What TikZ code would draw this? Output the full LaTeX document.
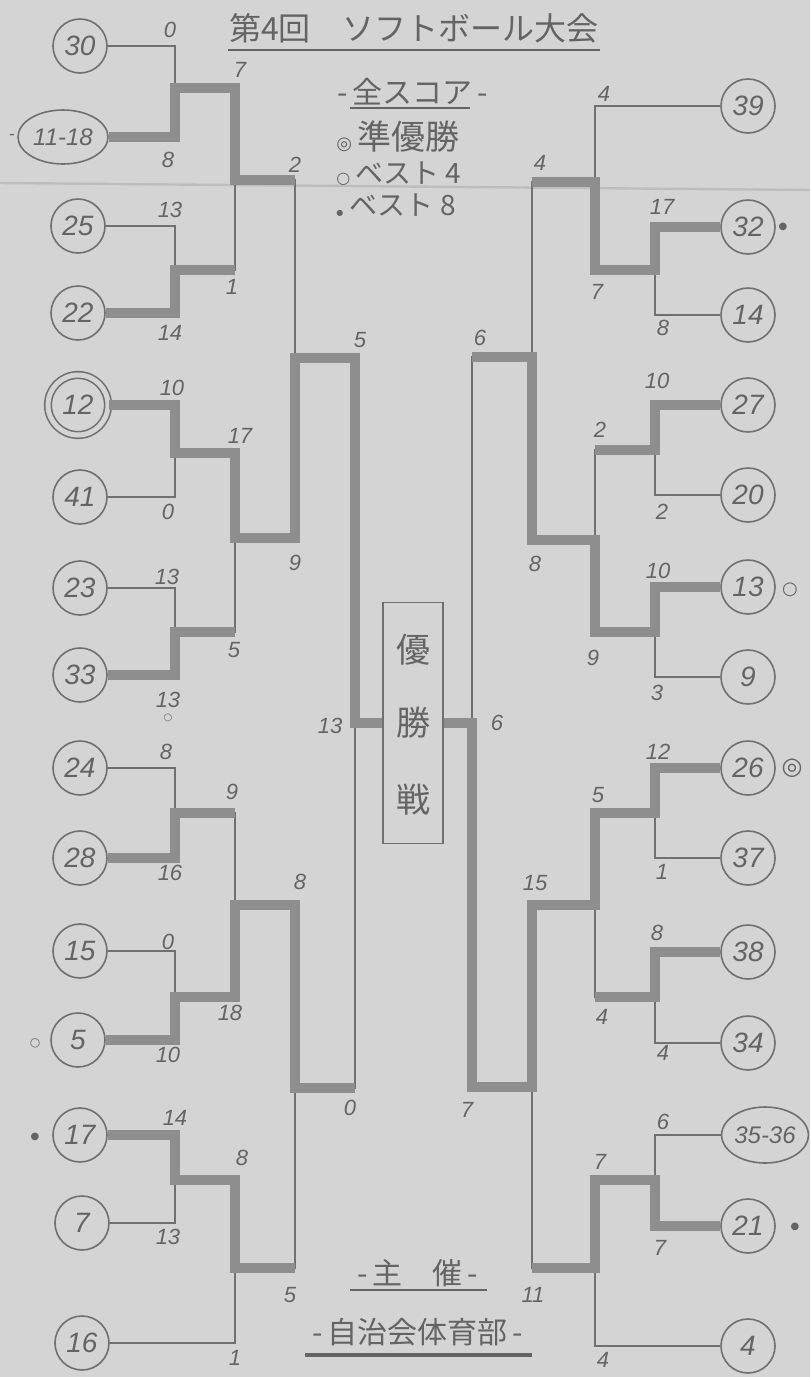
\documentclass[tikz,border=0pt]{standalone}
\usepackage{fontspec}
\setmainfont{Liberation Sans}
\newfontfamily\jp{Noto Sans CJK JP}
\newfontfamily\sym{DejaVu Sans}
\usetikzlibrary{shapes.geometric}
\definecolor{paper}{HTML}{D4D4D4}
\definecolor{ink}{HTML}{707070}
\definecolor{hl}{HTML}{8E8E8E}
\definecolor{txt}{HTML}{646464}
\definecolor{crease}{HTML}{BDBDBD}
\begin{document}
\begin{tikzpicture}[x=0.5pt,y=-0.5pt,
  team/.style={circle, draw=ink, line width=0.8pt, minimum size=27pt, inner sep=0pt,
     fill=paper, text=txt, font=\fontsize{14}{14}\selectfont\itshape},
  teamE/.style={team, ellipse, minimum width=45pt, minimum height=27pt,
     font=\fontsize{12}{12}\selectfont\itshape},
  wire/.style={draw=ink, line width=0.9pt},
  win/.style={draw=hl, line width=5pt, line join=miter},
  score/.style={inner sep=0pt, text=txt, font=\fontsize{11}{11}\selectfont\itshape},
  jt/.style={inner sep=0pt, text=txt, font=\jp\fontsize{15}{15}\selectfont},
  tmark/.style={inner sep=0pt, text=txt, font=\sym\fontsize{5}{5}\selectfont},
  rule/.style={draw=txt, line width=1pt}]
\fill[paper] (0,0) rectangle (810,1377);
\useasboundingbox (0,0) rectangle (810,1377);
\draw[crease, line width=1.2pt] (0,183) -- (810,190);

% ---------- titles ----------
\node[jt, font=\jp\fontsize{16}{16}\selectfont] (title) at (414,28) {第4回　ソフトボール大会};
\draw[rule, line width=1.3pt] (228,50) -- (600,50);
\node[jt] (lg0) at (413,92) {-\,全スコア\,-};
\draw[rule, line width=0.8pt] (350,108) -- (470,108);
\node[jt, anchor=west, font=\jp\fontsize{17}{17}\selectfont] (lg1) at (336,137) {{\sym\fontsize{9}{9}\selectfont ◎}\,準優勝};
\node[jt, anchor=west, font=\jp\fontsize{14}{14}\selectfont] (lg2) at (336,174) {{\sym\fontsize{8}{8}\selectfont ○}\,ベスト 4};
\node[jt, anchor=west, font=\jp\fontsize{14}{14}\selectfont] (lg3) at (336,205) {{\sym\fontsize{4}{4}\selectfont ●}\hspace{3pt}ベスト 8};
\node[jt] (org1) at (418,1273) {-\,主　催\,-};
\draw[rule, line width=0.9pt] (350,1290) -- (487,1290);
\node[jt] (org2) at (418,1332) {-\,自治会体育部\,-};
\draw[rule, line width=1.6pt] (305,1355) -- (532,1355);

% ---------- final box ----------
\node[draw=ink, line width=0.9pt, minimum width=30pt, minimum height=120.5pt, inner sep=0pt] (Final) at (413,723) {};
\node[jt, font=\jp\fontsize{17}{17}\selectfont] (fc1) at (413,650) {優};
\node[jt, font=\jp\fontsize{17}{17}\selectfont] (fc2) at (413,723) {勝};
\node[jt, font=\jp\fontsize{17}{17}\selectfont] (fc3) at (413,800) {戦};

% ---------- teams left ----------
\node[team] (L30) at (80,46) {30};
\node[teamE] (L1118) at (63,137) {11-18};
\node[team] (L25) at (78,226) {25};
\node[team] (L22) at (78,313) {22};
\node[team, double=paper, double distance=2.5pt, minimum size=30pt] (L12) at (78,405) {12};
\node[team] (L41) at (80,497) {41};
\node[team] (L23) at (80,588) {23};
\node[team] (L33) at (80,675) {33};
\node[team] (L24) at (80,768) {24};
\node[team] (L28) at (80,858) {28};
\node[team] (L15) at (80,951) {15};
\node[team] (L5) at (78,1040) {5};
\node[team] (L17) at (80,1135) {17};
\node[team] (L7) at (82,1223) {7};
\node[team] (L16) at (82,1343) {16};
% ---------- teams right ----------
\node[team] (R39) at (748,106) {39};
\node[team] (R32) at (748,227) {32};
\node[team] (R14) at (748,315) {14};
\node[team] (R27) at (748,405) {27};
\node[team] (R20) at (748,495) {20};
\node[team] (R13) at (748,587) {13};
\node[team] (R9) at (748,677) {9};
\node[team] (R26) at (748,768) {26};
\node[team] (R37) at (748,858) {37};
\node[team] (R38) at (748,952) {38};
\node[team] (R34) at (748,1043) {34};
\node[teamE, minimum width=43pt, minimum height=28pt] (R3536) at (765,1135) {35-36};
\node[team] (R21) at (748,1226) {21};
\node[team] (R4) at (748,1346) {4};

% ---------- marks ----------
\node[tmark, font=\sym\fontsize{8}{8}\selectfont] (m1118) at (12,137) {-};
\node[tmark, font=\sym\fontsize{6}{6}\selectfont] (m5) at (35,1043) {○};
\node[tmark] (m17) at (35,1137) {●};
\node[tmark] (m32) at (783,227) {●};
\node[tmark, font=\sym\fontsize{9}{9}\selectfont] (m13) at (790,590) {○};
\node[tmark, font=\sym\fontsize{12}{12}\selectfont] (m26) at (792,768) {◎};
\node[tmark] (m21) at (795,1227) {●};

% ---------- junction coordinates ----------
\foreach \n/\x/\t/\b/\m in {a1/175/46/137/88, a2/175/226/313/270, a3/175/405/497/453,
  a4/175/588/675/632, a5/175/768/858/813, a6/175/951/1040/997, a7/175/1135/1223/1180,
  b1/235/88/270/180, b2/235/453/632/538, b3/235/813/997/905, b4/235/1180/1343/1268,
  c1/295/180/538/358, c2/295/905/1268/1088, d1/355/358/1088/723,
  e1/655/227/315/270, e2/655/405/495/450, e3/655/587/677/632, e4/655/768/858/813,
  e5/655/952/1043/997, e6/655/1135/1226/1180,
  f1/595/106/270/182, f2/595/450/632/540, f3/595/813/997/905, f4/595/1180/1346/1268,
  g1/532/182/540/357, g2/532/905/1268/1087, h1/472/357/1087/723}{
  \coordinate (\n t) at (\x,\t);
  \coordinate (\n b) at (\x,\b);
  \coordinate (\n m) at (\x,\m);
}

% ---------- thin bracket ----------
\draw[wire] (L30.east) -- (a1t) -- (a1b) -- (L1118.east);
\draw[wire] (L25.east) -- (a2t) -- (a2b) -- (L22.east);
\draw[wire] (L12.east) -- (a3t) -- (a3b) -- (L41.east);
\draw[wire] (L23.east) -- (a4t) -- (a4b) -- (L33.east);
\draw[wire] (L24.east) -- (a5t) -- (a5b) -- (L28.east);
\draw[wire] (L15.east) -- (a6t) -- (a6b) -- (L5.east);
\draw[wire] (L17.east) -- (a7t) -- (a7b) -- (L7.east);
\draw[wire] (a1m) -- (b1t) -- (b1b) -- (a2m);
\draw[wire] (a3m) -- (b2t) -- (b2b) -- (a4m);
\draw[wire] (a5m) -- (b3t) -- (b3b) -- (a6m);
\draw[wire] (a7m) -- (b4t) -- (b4b) -- (L16.east);
\draw[wire] (b1m) -- (c1t) -- (c1b) -- (b2m);
\draw[wire] (b3m) -- (c2t) -- (c2b) -- (b4m);
\draw[wire] (c1m) -- (d1t) -- (d1b) -- (c2m);
\draw[wire] (d1m) -- (Final.west);
\draw[wire] (R32.west) -- (e1t) -- (e1b) -- (R14.west);
\draw[wire] (R27.west) -- (e2t) -- (e2b) -- (R20.west);
\draw[wire] (R13.west) -- (e3t) -- (e3b) -- (R9.west);
\draw[wire] (R26.west) -- (e4t) -- (e4b) -- (R37.west);
\draw[wire] (R38.west) -- (e5t) -- (e5b) -- (R34.west);
\draw[wire] (R3536.west) -- (e6t) -- (e6b) -- (R21.west);
\draw[wire] (R39.west) -- (f1t) -- (f1b) -- (e1m);
\draw[wire] (e2m) -- (f2t) -- (f2b) -- (e3m);
\draw[wire] (e4m) -- (f3t) -- (f3b) -- (e5m);
\draw[wire] (e6m) -- (f4t) -- (f4b) -- (R4.west);
\draw[wire] (f1m) -- (g1t) -- (g1b) -- (f2m);
\draw[wire] (f3m) -- (g2t) -- (g2b) -- (f4m);
\draw[wire] (g1m) -- (h1t) -- (h1b) -- (g2m);
\draw[wire] (h1m) -- (Final.east);

% ---------- winner paths ----------
\draw[win] (L1118.east) -- (a1b) -- (a1m) -- (b1t) -- (b1m) -- (c1t);
\draw[win] (L22.east) -- (a2b) -- (a2m) -- (b1b);
\draw[win] (L12.east) -- (a3t) -- (a3m) -- (b2t) -- (b2m) -- (c1b) -- (c1m) -- (d1t) -- (d1m) -- (Final.west);
\draw[win] (L33.east) -- (a4b) -- (a4m) -- (b2b);
\draw[win] (L28.east) -- (a5b) -- (a5m) -- (b3t);
\draw[win] (L5.east) -- (a6b) -- (a6m) -- (b3b) -- (b3m) -- (c2t) -- (c2m) -- (d1b);
\draw[win] (L17.east) -- (a7t) -- (a7m) -- (b4t) -- (b4m) -- (c2b);
\draw[win] (R32.west) -- (e1t) -- (e1m) -- (f1b) -- (f1m) -- (g1t);
\draw[win] (R27.west) -- (e2t) -- (e2m) -- (f2t);
\draw[win] (R13.west) -- (e3t) -- (e3m) -- (f2b) -- (f2m) -- (g1b) -- (g1m) -- (h1t);
\draw[win] (R26.west) -- (e4t) -- (e4m) -- (f3t) -- (f3m) -- (g2t) -- (g2m) -- (h1b) -- (h1m) -- (Final.east);
\draw[win] (R38.west) -- (e5t) -- (e5m) -- (f3b);
\draw[win] (R21.west) -- (e6b) -- (e6m) -- (f4t) -- (f4m) -- (g2b);

% ---------- scores left ----------
\node[score] (s1) at (170,30) {0};
\node[score] (s2) at (168,160) {8};
\node[score] (s3) at (240,70) {7};
\node[score] (s4) at (232,287) {1};
\node[score] (s5) at (295,165) {2};
\node[score] (s6) at (170,210) {13};
\node[score] (s7) at (170,333) {14};
\node[score] (s8) at (360,340) {5};
\node[score] (s9) at (172,388) {10};
\node[score] (s10) at (168,512) {0};
\node[score] (s11) at (240,436) {17};
\node[score] (s12) at (295,563) {9};
\node[score] (s13) at (167,577) {13};
\node[score] (s14) at (234,650) {5};
\node[score] (s15) at (168,700) {13};
\node[tmark, font=\sym\fontsize{5}{5}\selectfont] (s15o) at (168,718) {○};
\node[score] (s16) at (330,726) {13};
\node[score] (s17) at (166,752) {8};
\node[score] (s18) at (232,792) {9};
\node[score] (s19) at (170,873) {16};
\node[score] (s20) at (300,882) {8};
\node[score] (s21) at (168,942) {0};
\node[score] (s22) at (230,1013) {18};
\node[score] (s23) at (168,1055) {10};
\node[score] (s24) at (350,1108) {0};
\node[score] (s25) at (175,1118) {14};
\node[score] (s26) at (242,1158) {8};
\node[score] (s27) at (168,1237) {13};
\node[score] (s28) at (290,1295) {5};
\node[score] (s29) at (235,1358) {1};
% ---------- scores right ----------
\node[score] (t1) at (604,94) {4};
\node[score] (t2) at (540,163) {4};
\node[score] (t3) at (662,207) {17};
\node[score] (t4) at (597,292) {7};
\node[score] (t5) at (663,328) {8};
\node[score] (t6) at (480,338) {6};
\node[score] (t7) at (657,381) {10};
\node[score] (t8) at (600,430) {2};
\node[score] (t9) at (662,512) {2};
\node[score] (t10) at (535,564) {8};
\node[score] (t11) at (658,571) {10};
\node[score] (t12) at (593,658) {9};
\node[score] (t13) at (657,693) {3};
\node[score] (t14) at (497,723) {6};
\node[score] (t15) at (658,752) {12};
\node[score] (t16) at (598,795) {5};
\node[score] (t17) at (662,872) {1};
\node[score] (t18) at (535,883) {15};
\node[score] (t19) at (657,933) {8};
\node[score] (t20) at (602,1017) {4};
\node[score] (t21) at (663,1053) {4};
\node[score] (t22) at (467,1110) {7};
\node[score] (t23) at (663,1122) {6};
\node[score] (t24) at (600,1162) {7};
\node[score] (t25) at (660,1248) {7};
\node[score] (t26) at (533,1295) {11};
\node[score] (t27) at (603,1360) {4};
\end{tikzpicture}
\end{document}
